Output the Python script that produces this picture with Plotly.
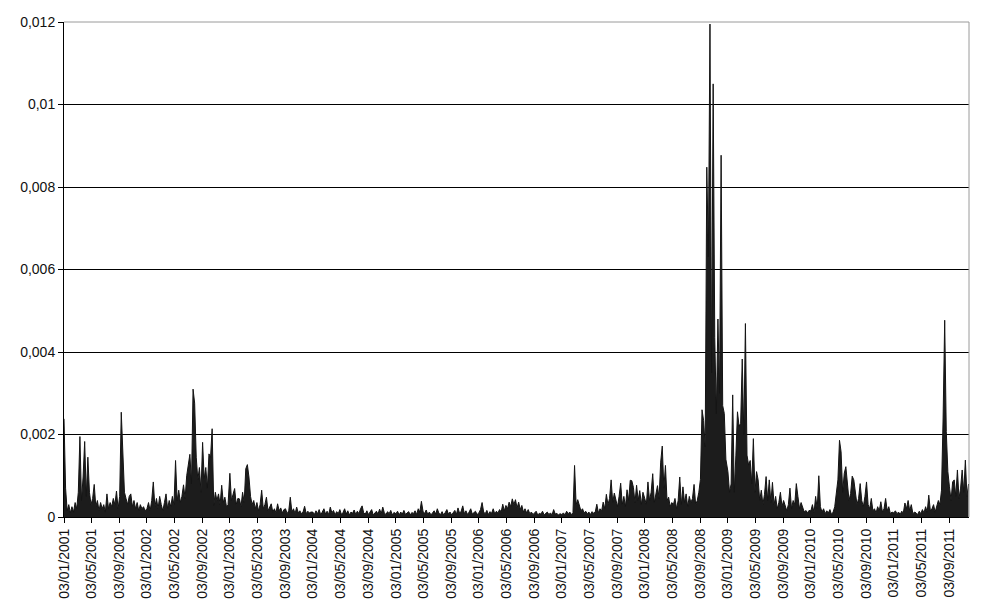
import pandas as pd
import plotly.graph_objects as go

# Weekly readings of the series, in units of 1e-5 (one list per year, weeks from 3 Jan)
v2001 = [238, 70, 15, 30, 10, 25, 12, 35, 20, 60, 195, 40, 97, 183, 50, 145, 60, 30, 45, 79,
         25, 40, 15, 35, 20, 30, 12, 56, 20, 35, 25, 45, 30, 63, 20, 50, 254, 145, 60, 45,
         30, 50, 56, 25, 40, 20, 35, 15, 30, 20, 25, 15]
v2002 = [20, 35, 15, 40, 85, 25, 45, 20, 50, 30, 15, 35, 56, 20, 40, 25, 50, 30, 137, 40,
         65, 35, 50, 78, 45, 100, 129, 152, 80, 310, 276, 145, 90, 120, 60, 181, 93, 120, 70, 153,
         145, 214, 28, 60, 40, 56, 30, 77, 35, 48, 25, 30]
v2003 = [106, 40, 55, 69, 30, 45, 44, 25, 60, 35, 117, 127, 97, 50, 30, 40, 20, 35, 15, 30,
         65, 20, 30, 48, 15, 25, 32, 12, 20, 10, 32, 15, 22, 10, 18, 20, 8, 15, 48, 12,
         20, 8, 24, 10, 15, 8, 12, 26, 8, 14, 10, 12]
v2004 = [12, 6, 15, 8, 18, 5, 12, 20, 7, 14, 6, 24, 10, 16, 5, 13, 8, 18, 6, 11,
         20, 7, 15, 5, 12, 9, 17, 6, 14, 8, 20, 27, 10, 7, 15, 6, 12, 18, 5, 10,
         14, 7, 19, 8, 24, 10, 6, 13, 8, 16, 5, 11]
v2005 = [8, 14, 5, 12, 7, 16, 6, 10, 13, 5, 11, 8, 15, 6, 20, 12, 38, 14, 8, 17,
         6, 12, 5, 10, 15, 7, 20, 9, 6, 13, 5, 11, 18, 7, 12, 5, 10, 16, 6, 22,
         9, 14, 27, 8, 15, 6, 12, 20, 7, 10, 14, 6]
v2006 = [10, 18, 35, 12, 8, 16, 6, 13, 9, 20, 7, 14, 10, 18, 12, 31, 15, 28, 20, 36,
         25, 44, 30, 42, 22, 36, 18, 28, 12, 20, 10, 18, 8, 12, 6, 10, 14, 5, 9, 7,
         14, 5, 8, 12, 6, 10, 5, 18, 7, 9, 5, 8]
v2007 = [6, 10, 5, 14, 8, 12, 6, 10, 125, 30, 42, 28, 15, 20, 10, 14, 8, 12, 6, 13,
         9, 12, 31, 10, 20, 14, 36, 20, 55, 30, 45, 90, 35, 58, 40, 25, 50, 82, 30, 50,
         25, 66, 40, 89, 88, 72, 35, 77, 40, 64, 30, 60]
v2008 = [45, 30, 85, 40, 60, 105, 35, 60, 76, 45, 133, 172, 70, 125, 40, 48, 25, 35, 30, 45,
         20, 40, 97, 30, 73, 35, 56, 25, 50, 35, 45, 79, 30, 40, 60, 91, 260, 234, 170, 848,
         631, 1195, 350, 1050, 435, 250, 480, 300, 877, 270, 251, 140]
v2009 = [110, 60, 80, 296, 60, 150, 255, 220, 227, 383, 200, 469, 150, 126, 137, 80, 190, 60, 110, 90,
         40, 65, 30, 55, 98, 40, 90, 35, 84, 30, 50, 20, 35, 60, 25, 40, 25, 15, 30, 70,
         20, 40, 30, 81, 50, 20, 35, 25, 12, 16, 10, 16]
v2010 = [15, 30, 10, 50, 20, 100, 25, 12, 20, 8, 15, 10, 18, 6, 12, 25, 57, 90, 186, 158,
         60, 106, 122, 85, 40, 57, 99, 90, 57, 30, 45, 81, 40, 25, 50, 85, 30, 20, 45, 15,
         20, 10, 25, 15, 37, 12, 20, 45, 15, 25, 8, 12]
v2011 = [10, 15, 8, 12, 6, 14, 10, 34, 20, 40, 15, 30, 8, 12, 10, 6, 14, 8, 18, 10,
         25, 12, 53, 15, 20, 30, 12, 25, 40, 30, 65, 240, 477, 207, 110, 73, 40, 85, 90, 50,
         114, 45, 70, 114, 60, 138, 50, 80]

years = [2001, 2002, 2003, 2004, 2005, 2006, 2007, 2008, 2009, 2010, 2011]
yearly = [v2001, v2002, v2003, v2004, v2005, v2006, v2007, v2008, v2009, v2010, v2011]

tick_labels = []
for y in years:
    for m in ("01", "05", "09"):
        tick_labels.append(f"03/{m}/{y}")

y_tickvals = [0, 0.002, 0.004, 0.006, 0.008, 0.01, 0.012]
y_ticktext = ["0", "0,002", "0,004", "0,006", "0,008", "0,01", "0,012"]

dates, values = [], []
for y, v in zip(years, yearly):
    d = pd.date_range(f"{y}-01-03", periods=len(v), freq="7D")
    dates.extend(d)
    values.extend([x * 1e-5 for x in v])

tick_dates = pd.to_datetime(tick_labels, format="%d/%m/%Y")

font = dict(family="Liberation Sans, Arial, sans-serif", size=14, color="#111111")

fig = go.Figure()
fig.add_trace(go.Scatter(x=dates, y=values, mode="lines", fill="tozeroy",
                         fillcolor="#1c1c1c",
                         line=dict(color="#141414", width=1), hoverinfo="skip"))

fig.update_layout(
    width=982, height=599,
    margin=dict(l=64, r=13, t=22, b=82, autoexpand=False),
    paper_bgcolor="white", plot_bgcolor="white",
    showlegend=False,
    font=font,
)
fig.update_xaxes(
    type="date", range=["2001-01-03", "2011-11-30"],
    tickvals=tick_dates, ticktext=tick_labels, tickangle=-90,
    showgrid=False, showline=True, linecolor="black", linewidth=1,
    ticks="outside", ticklen=5, tickcolor="black", tickfont=font,
    zeroline=False, automargin=False,
)
fig.update_yaxes(
    range=[0, 0.012], tickvals=y_tickvals, ticktext=y_ticktext,
    showgrid=True, gridcolor="black", gridwidth=1,
    showline=True, linecolor="black", linewidth=1,
    ticks="outside", ticklen=5, tickcolor="black", tickfont=font,
    zeroline=False, automargin=False,
)
fig.add_shape(type="line", xref="x domain", yref="y domain", x0=0, x1=1, y0=1, y1=1,
              line=dict(color="#9a9a9a", width=1), layer="above")
fig.add_shape(type="line", xref="x domain", yref="y domain", x0=1, x1=1, y0=0, y1=1,
              line=dict(color="#9a9a9a", width=1), layer="above")

fig.write_html("out.html", config={"displayModeBar": False},
               post_script="document.body.style.margin='0px';document.body.style.overflow='hidden';")
